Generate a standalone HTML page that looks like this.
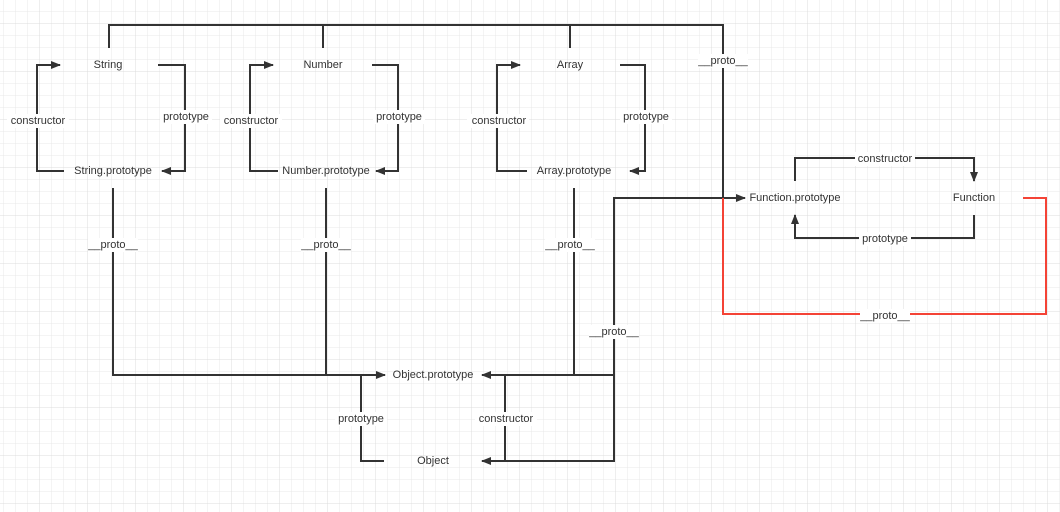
<!DOCTYPE html>
<html><head><meta charset="utf-8"><style>
html,body{margin:0;padding:0;background:#fff}
svg{display:block}
text{font-family:"Liberation Sans",sans-serif;font-size:11px;fill:#333}
</style></head><body>
<svg width="1060" height="512" viewBox="0 0 1060 512" xmlns="http://www.w3.org/2000/svg">
<defs>
<pattern id="g1" x="3" y="11" width="12" height="12" patternUnits="userSpaceOnUse"><path d="M0 0H12M0 0V12" stroke="#e9e9e9" stroke-width="1" fill="none"/></pattern>
<pattern id="g2" x="39" y="23" width="48" height="48" patternUnits="userSpaceOnUse"><path d="M0 0H48M0 0V48" stroke="#dcdcdc" stroke-width="1" fill="none"/></pattern>
<marker id="a" markerWidth="10" markerHeight="8" refX="9" refY="4" orient="auto" markerUnits="userSpaceOnUse"><path d="M0 0L10 4L0 8z" fill="#333"/></marker>
</defs>
<rect width="1060" height="512" fill="url(#g1)"/>
<rect width="1060" height="512" fill="url(#g2)"/>
<g stroke="#333" stroke-width="2" fill="none">
<path d="M109 48V25H723V198"/>
<path d="M323 48V25"/>
<path d="M570 48V25"/>
<path d="M723 198H745" marker-end="url(#a)"/>
<path d="M64 171H37V65H60" marker-end="url(#a)"/>
<path d="M158 65H185V171H162" marker-end="url(#a)"/>
<path d="M278 171H250V65H273" marker-end="url(#a)"/>
<path d="M372 65H398V171H376" marker-end="url(#a)"/>
<path d="M527 171H497V65H520" marker-end="url(#a)"/>
<path d="M620 65H645V171H630" marker-end="url(#a)"/>
<path d="M113 188V375H385" marker-end="url(#a)"/>
<path d="M326 188V375"/>
<path d="M574 188V375"/>
<path d="M614 375H482" marker-end="url(#a)"/>
<path d="M745 198H614V461H482" marker-end="url(#a)"/>
<path d="M505 375V461"/>
<path d="M361 375V461H384"/>
<path d="M795 181V158H974V181" marker-end="url(#a)"/>
<path d="M974 215V238H795V215" marker-end="url(#a)"/>
</g>
<path d="M1023 198H1046V314H723V198" stroke="#f44336" stroke-width="2" fill="none"/>
<g text-anchor="middle" dominant-baseline="central">
<text x="108" y="65">String</text>
<text x="323" y="65">Number</text>
<text x="570" y="65">Array</text>
<text x="113" y="171">String.prototype</text>
<text x="326" y="171">Number.prototype</text>
<text x="574" y="171">Array.prototype</text>
<text x="433" y="375">Object.prototype</text>
<text x="433" y="461">Object</text>
<text x="795" y="198">Function.prototype</text>
<text x="974" y="198">Function</text>
</g>
<g text-anchor="middle" dominant-baseline="central">
<rect x="7" y="114" width="62" height="14" fill="#fff"/><text x="38" y="121">constructor</text>
<rect x="160" y="110" width="52" height="14" fill="#fff"/><text x="186" y="117">prototype</text>
<rect x="220" y="114" width="62" height="14" fill="#fff"/><text x="251" y="121">constructor</text>
<rect x="373" y="110" width="52" height="14" fill="#fff"/><text x="399" y="117">prototype</text>
<rect x="467" y="114" width="62" height="14" fill="#fff"/><text x="499" y="121">constructor</text>
<rect x="620" y="110" width="52" height="14" fill="#fff"/><text x="646" y="117">prototype</text>
<rect x="698" y="54" width="50" height="14" fill="#fff"/><text x="723" y="61">__proto__</text>
<rect x="88" y="238" width="50" height="14" fill="#fff"/><text x="113" y="245">__proto__</text>
<rect x="301" y="238" width="50" height="14" fill="#fff"/><text x="326" y="245">__proto__</text>
<rect x="545" y="238" width="50" height="14" fill="#fff"/><text x="570" y="245">__proto__</text>
<rect x="589" y="325" width="50" height="14" fill="#fff"/><text x="614" y="332">__proto__</text>
<rect x="335" y="412" width="52" height="14" fill="#fff"/><text x="361" y="419">prototype</text>
<rect x="475" y="412" width="62" height="14" fill="#fff"/><text x="506" y="419">constructor</text>
<rect x="855" y="152" width="60" height="14" fill="#fff"/><text x="885" y="159">constructor</text>
<rect x="859" y="232" width="52" height="14" fill="#fff"/><text x="885" y="239">prototype</text>
<rect x="860" y="309" width="50" height="14" fill="#fff"/><text x="885" y="316">__proto__</text>
</g>
</svg>
</body></html>
